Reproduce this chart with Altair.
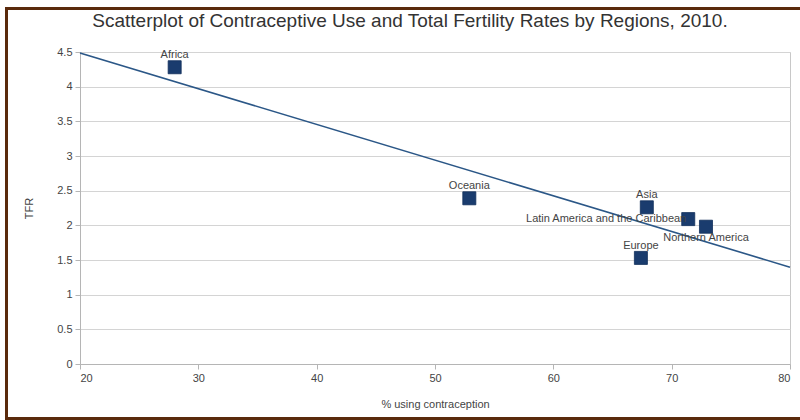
import altair as alt
import pandas as pd

regions = ["Africa", "Oceania", "Asia", "Latin America and the Caribbean",
           "Northern America", "Europe"]
contraception = [28.0, 52.9, 67.9, 71.4, 72.9, 67.4]
tfr = [4.28, 2.39, 2.26, 2.09, 1.98, 1.53]

x_ticks = [20, 30, 40, 50, 60, 70, 80]
y_ticks = [0, 0.5, 1, 1.5, 2, 2.5, 3, 3.5, 4, 4.5]

above = ["Africa", "Oceania", "Asia", "Europe"]
below = ["Northern America"]
left = ["Latin America and the Caribbean"]

df = pd.DataFrame({"region": regions, "contraception": contraception, "tfr": tfr})

FONT = "Liberation Sans"

x = alt.X("contraception:Q",
          scale=alt.Scale(domain=[20, 80], nice=False, zero=False),
          axis=alt.Axis(values=x_ticks, title="% using contraception", grid=False,
                        titlePadding=15))
y = alt.Y("tfr:Q",
          scale=alt.Scale(domain=[0, 4.5], nice=False),
          axis=alt.Axis(values=y_ticks, title="TFR", grid=True, format=".1~f",
                        titlePadding=22))

base = alt.Chart(df)

line = base.transform_regression(
    "contraception", "tfr", extent=[20, 80]
).mark_line(color="#2b5787", strokeWidth=1.6).encode(x=x, y=y)

points = base.mark_square(size=170, color="#1a3c6e", opacity=1,
                          stroke="#12305c", strokeWidth=0.8).encode(x=x, y=y)

text_style = dict(font=FONT, fontSize=11, color="#444444")

lab_above = base.transform_filter(
    alt.FieldOneOfPredicate(field="region", oneOf=above)
).mark_text(dy=-12, **text_style).encode(x=x, y=y, text="region:N")

lab_below = base.transform_filter(
    alt.FieldOneOfPredicate(field="region", oneOf=below)
).mark_text(dy=11, **text_style).encode(x=x, y=y, text="region:N")

lab_left = base.transform_filter(
    alt.FieldOneOfPredicate(field="region", oneOf=left)
).mark_text(align="right", dx=-2, **text_style).encode(x=x, y=y, text="region:N")

frame = alt.Chart(pd.DataFrame({"k": [0]})).mark_rect(
    filled=False, stroke="#5a2a0c", strokeWidth=3
).encode(x=alt.value(-73.5), x2=alt.value(725), y=alt.value(-43.5), y2=alt.value(366.5))

chart = alt.layer(line, points, lab_above, lab_below, lab_left, frame).properties(
    width=710,
    height=312,
    title=alt.TitleParams(
        "Scatterplot of Contraceptive Use and Total Fertility Rates by Regions, 2010.",
        font=FONT, fontSize=19, fontWeight="normal", color="#333333",
        anchor="middle", dx=-25, offset=-24),
    autosize=alt.AutoSizeParams(type="none"),
    padding={"left": 80, "top": 52, "right": 10, "bottom": 56},
    background="white",
).configure_view(
    stroke="#c8c8c8", strokeWidth=1
).configure_axis(
    labelFont=FONT, titleFont=FONT, labelFontSize=11, titleFontSize=11,
    labelColor="#444444", titleColor="#444444", titleFontWeight="normal",
    domainColor="#b5b5b5", tickColor="#b5b5b5", gridColor="#d4d4d4",
    tickSize=5, labelPadding=3,
)

chart.save("out.html", embed_options={"renderer": "svg", "actions": False})
